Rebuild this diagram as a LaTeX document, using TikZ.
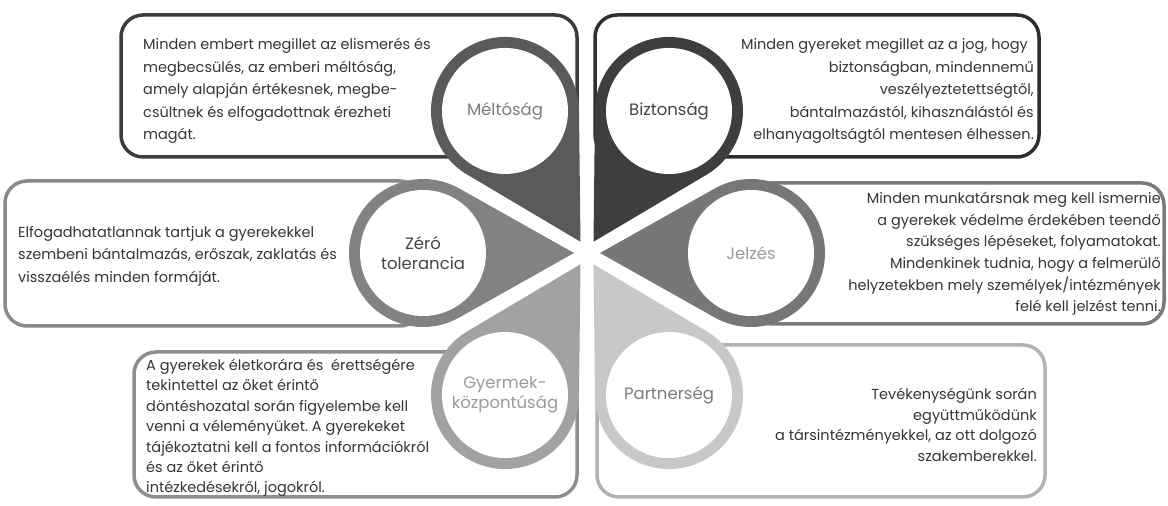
\documentclass[tikz,border=0pt]{standalone}
\usepackage{fontspec}
\setmainfont{Poppins}
\usetikzlibrary{calc}
\frenchspacing
\definecolor{pMelt}{HTML}{5A5A5A}
\definecolor{pBiz}{HTML}{3E3E3E}
\definecolor{pZero}{HTML}{828282}
\definecolor{pJel}{HTML}{777777}
\definecolor{pGyer}{HTML}{A2A2A2}
\definecolor{pPart}{HTML}{C8C8C8}
\definecolor{bMelt}{HTML}{3C3C3C}
\definecolor{bBiz}{HTML}{2E2E2E}
\definecolor{bZero}{HTML}{8A8A8A}
\definecolor{bJel}{HTML}{7A7A7A}
\definecolor{bGyer}{HTML}{8E8E8E}
\definecolor{bPart}{HTML}{B2B2B2}
\definecolor{lDark}{HTML}{454545}
\definecolor{lMid}{HTML}{7C7C7C}
\definecolor{lLight}{HTML}{9A9A9A}
\definecolor{txt}{HTML}{363636}
\begin{document}
\begin{tikzpicture}[x=1pt,y=1pt,
  boxline/.style={line width=3.5pt, rounded corners=22pt},
  body/.style={inner sep=0pt, text=txt, font=\fontsize{14.5}{22.5}\selectfont\frenchspacing},
  lab/.style={circle, fill=white, minimum size=126pt, inner sep=0pt, align=center, font=\fontsize{16.5}{20}\selectfont}]
\useasboundingbox (0,0) rectangle (1168,506);
\fill[white] (0,0) rectangle (1168,506);
\coordinate (C) at (587,253);
% boxes
\draw[boxline, draw=bMelt] (121,349) rectangle (577,491);
\draw[boxline, draw=bBiz] (595,349) rectangle (1039,491);
\draw[boxline, draw=bZero] (5,180) rectangle (422,325);
\draw[boxline, draw=bJel] (750,182) rectangle (1164,323);
\draw[boxline, draw=bGyer] (134,9) rectangle (577,154);
\draw[boxline, draw=bPart] (597,9) rectangle (1045,161);
% petals
\foreach \a/\c in {120/pMelt, 60/pBiz, 0/pJel, -60/pPart, -120/pGyer, 180/pZero} {
  \fill[\c] ($(C)+(\a:13)$) -- ($(C)+(\a:164)+(\a+119.34:74)$)
    arc[start angle=\a+119.34, end angle=\a-119.34, radius=74] -- cycle;
}
% circle labels
\node[lab, text=lMid] (melt) at ($(C)+(120:164)$) {Méltóság};
\node[lab, text=lDark] (biz) at ($(C)+(60:164)$) {Biztonság};
\node[lab, text=lLight] (jel) at ($(C)+(0:164)$) {Jelzés};
\node[lab, text=lMid] (part) at ($(C)+(-60:164)$) {Partnerség};
\node[lab, text=lLight] (gyer) at ($(C)+(-120:164)$) {Gyermek-\\központúság};
\node[lab, text=lDark] (zero) at ($(C)+(180:164)$) {Zéró\\tolerancia};
% texts
\node[body, align=left, anchor=west] (tMelt) at (143,415) {Minden embert megillet az elismerés és\\megbecsülés, az emberi méltóság,\\amely alapján értékesnek, megbe-\\csültnek és elfogadottnak érezheti\\magát.};
\node[body, align=right, anchor=east] (tBiz) at (1034,415) {Minden gyereket megillet az a jog, hogy\hspace*{6pt}\\biztonságban, mindennemű\\veszélyeztetettségtől,\\bántalmazástól, kihasználástól és\\elhanyagoltságtól mentesen élhessen.};
\node[body, align=left, anchor=west, font=\fontsize{14.5}{22.5}\selectfont\frenchspacing] (tZero) at (18,250) {Elfogadhatatlannak tartjuk a gyerekekkel\\szembeni bántalmazás, erőszak, zaklatás és\\visszaélés minden formáját.};
\node[body, align=right, anchor=east, font=\fontsize{14.5}{21.6}\selectfont\frenchspacing] (tJel) at (1161,252) {Minden munkatársnak meg kell ismernie\\a gyerekek védelme érdekében teendő\\szükséges lépéseket, folyamatokat.\\Mindenkinek tudnia, hogy a felmerülő\\helyzetekben mely személyek/intézmények\\felé kell jelzést tenni.};
\node[body, align=left, anchor=west, font=\fontsize{14.5}{20.4}\selectfont\frenchspacing] (tGyer) at (146,78) {A gyerekek életkorára és\ \ érettségére\\tekintettel az őket érintő\\döntéshozatal során figyelembe kell\\venni a véleményüket. A gyerekeket\\tájékoztatni kell a fontos információkról\\és az őket érintő\\intézkedésekről, jogokról.};
\node[body, align=right, anchor=east, font=\fontsize{14.5}{20.5}\selectfont\frenchspacing] (tPart) at (1037,81) {Tevékenységünk során\\együttműködünk\\a társintézményekkel, az ott dolgozó\\szakemberekkel.};
\end{tikzpicture}
\end{document}
